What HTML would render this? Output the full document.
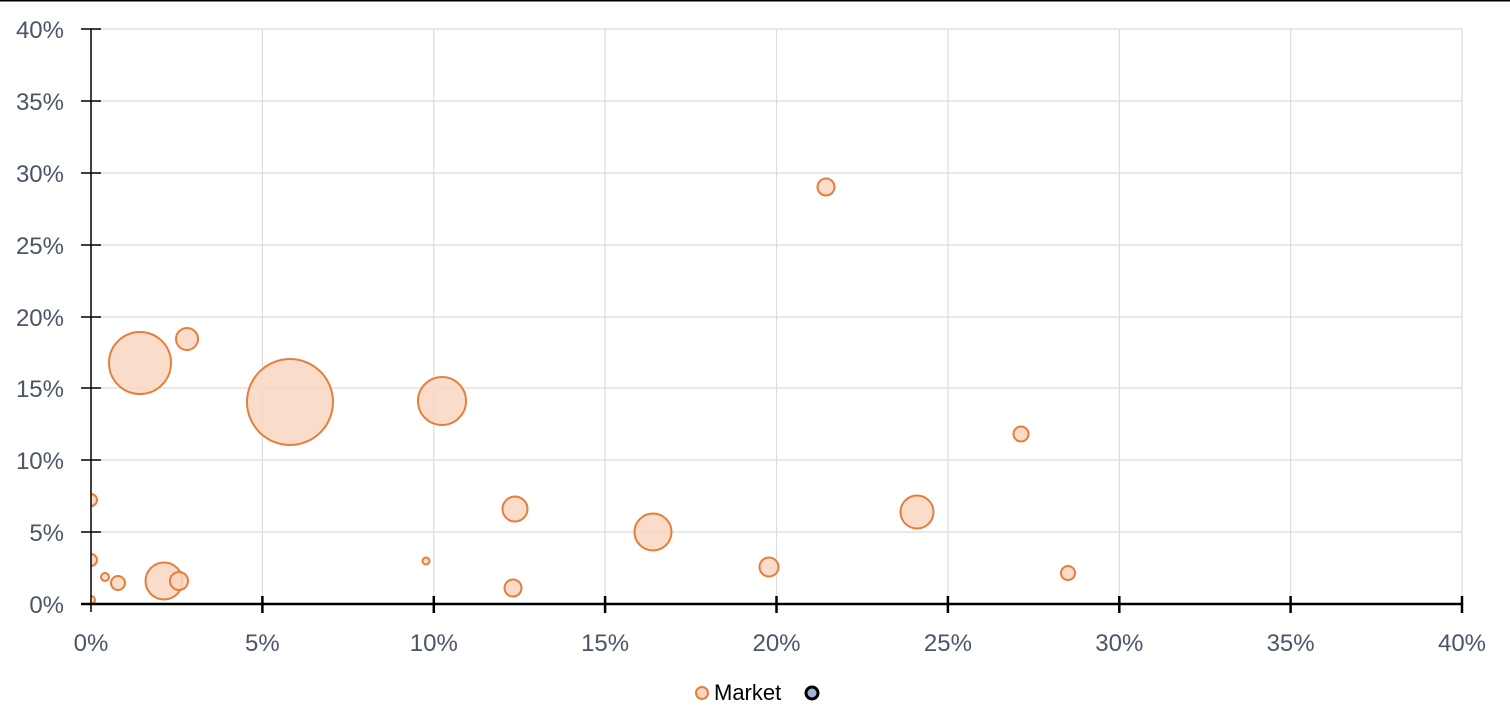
<!DOCTYPE html>
<html><head><style>body{margin:0;background:#fff}svg{display:block}</style></head><body>
<svg width="1510" height="727" xmlns="http://www.w3.org/2000/svg" font-family="Liberation Sans, sans-serif">
<line x1="0" y1="0.5" x2="1510" y2="0.5" stroke="#000" stroke-width="2"/>
<defs><clipPath id="c"><rect x="91" y="0" width="1420" height="605"/></clipPath></defs>
<g stroke="#dcdcdc" stroke-width="1.2">
<line x1="91" y1="29" x2="1462" y2="29"/><line x1="91" y1="101" x2="1462" y2="101"/><line x1="91" y1="173" x2="1462" y2="173"/><line x1="91" y1="245" x2="1462" y2="245"/><line x1="91" y1="317" x2="1462" y2="317"/><line x1="91" y1="388" x2="1462" y2="388"/><line x1="91" y1="460" x2="1462" y2="460"/><line x1="91" y1="532" x2="1462" y2="532"/>
<line x1="262.4" y1="29" x2="262.4" y2="604"/><line x1="433.8" y1="29" x2="433.8" y2="604"/><line x1="605.1" y1="29" x2="605.1" y2="604"/><line x1="776.5" y1="29" x2="776.5" y2="604"/><line x1="947.9" y1="29" x2="947.9" y2="604"/><line x1="1119.3" y1="29" x2="1119.3" y2="604"/><line x1="1290.6" y1="29" x2="1290.6" y2="604"/><line x1="1462" y1="29" x2="1462" y2="604"/>
</g>
<g clip-path="url(#c)" fill="#f8d6c1" fill-opacity="0.85" stroke="#e67e3a" stroke-width="2">
<circle cx="826" cy="187" r="8.5"/><circle cx="1021" cy="434" r="7.5"/><circle cx="140" cy="363" r="31"/><circle cx="187" cy="339" r="11"/><circle cx="290" cy="402" r="43"/><circle cx="442" cy="401" r="24"/><circle cx="515" cy="509" r="12.5"/><circle cx="653" cy="532" r="18.5"/><circle cx="917" cy="512" r="16.5"/><circle cx="769" cy="567" r="9.5"/><circle cx="1068" cy="573" r="7"/><circle cx="513" cy="588" r="8.5"/><circle cx="426" cy="561" r="3.5"/><circle cx="164" cy="581" r="18.5"/><circle cx="179" cy="581" r="9"/><circle cx="118" cy="583" r="7"/><circle cx="105" cy="577" r="4"/><circle cx="91" cy="500" r="6"/><circle cx="91" cy="560" r="6"/><circle cx="91" cy="600" r="4"/>
</g>
<g stroke="#000" stroke-width="1.5">
<line x1="91" y1="29" x2="91" y2="612"/>
<line x1="81" y1="29" x2="101" y2="29"/><line x1="81" y1="101" x2="101" y2="101"/><line x1="81" y1="173" x2="101" y2="173"/><line x1="81" y1="245" x2="101" y2="245"/><line x1="81" y1="317" x2="101" y2="317"/><line x1="81" y1="388" x2="101" y2="388"/><line x1="81" y1="460" x2="101" y2="460"/><line x1="81" y1="532" x2="101" y2="532"/>
</g>
<g stroke="#000" stroke-width="2.5">
<line x1="81" y1="604" x2="1463" y2="604"/>
<line x1="262.4" y1="596" x2="262.4" y2="613"/><line x1="433.8" y1="596" x2="433.8" y2="613"/><line x1="605.1" y1="596" x2="605.1" y2="613"/><line x1="776.5" y1="596" x2="776.5" y2="613"/><line x1="947.9" y1="596" x2="947.9" y2="613"/><line x1="1119.3" y1="596" x2="1119.3" y2="613"/><line x1="1290.6" y1="596" x2="1290.6" y2="613"/><line x1="1462" y1="596" x2="1462" y2="613"/>
</g>
<g fill="#4a5567" font-size="24" text-anchor="end">
<text x="64" y="38">40%</text><text x="64" y="110">35%</text><text x="64" y="182">30%</text><text x="64" y="254">25%</text><text x="64" y="326">20%</text><text x="64" y="397">15%</text><text x="64" y="469">10%</text><text x="64" y="541">5%</text><text x="64" y="613">0%</text>
</g>
<g fill="#4a5567" font-size="24" text-anchor="middle">
<text x="91" y="651">0%</text><text x="262.4" y="651">5%</text><text x="433.8" y="651">10%</text><text x="605.1" y="651">15%</text><text x="776.5" y="651">20%</text><text x="947.9" y="651">25%</text><text x="1119.3" y="651">30%</text><text x="1290.6" y="651">35%</text><text x="1462" y="651">40%</text>
</g>
<circle cx="702" cy="693" r="6" fill="#f8d6c1" stroke="#e67e3a" stroke-width="2"/>
<text x="714" y="700" font-size="22" fill="#000">Market</text>
<circle cx="812" cy="693" r="6" fill="#9fb4dd" stroke="#000" stroke-width="3"/>
</svg>
</body></html>
